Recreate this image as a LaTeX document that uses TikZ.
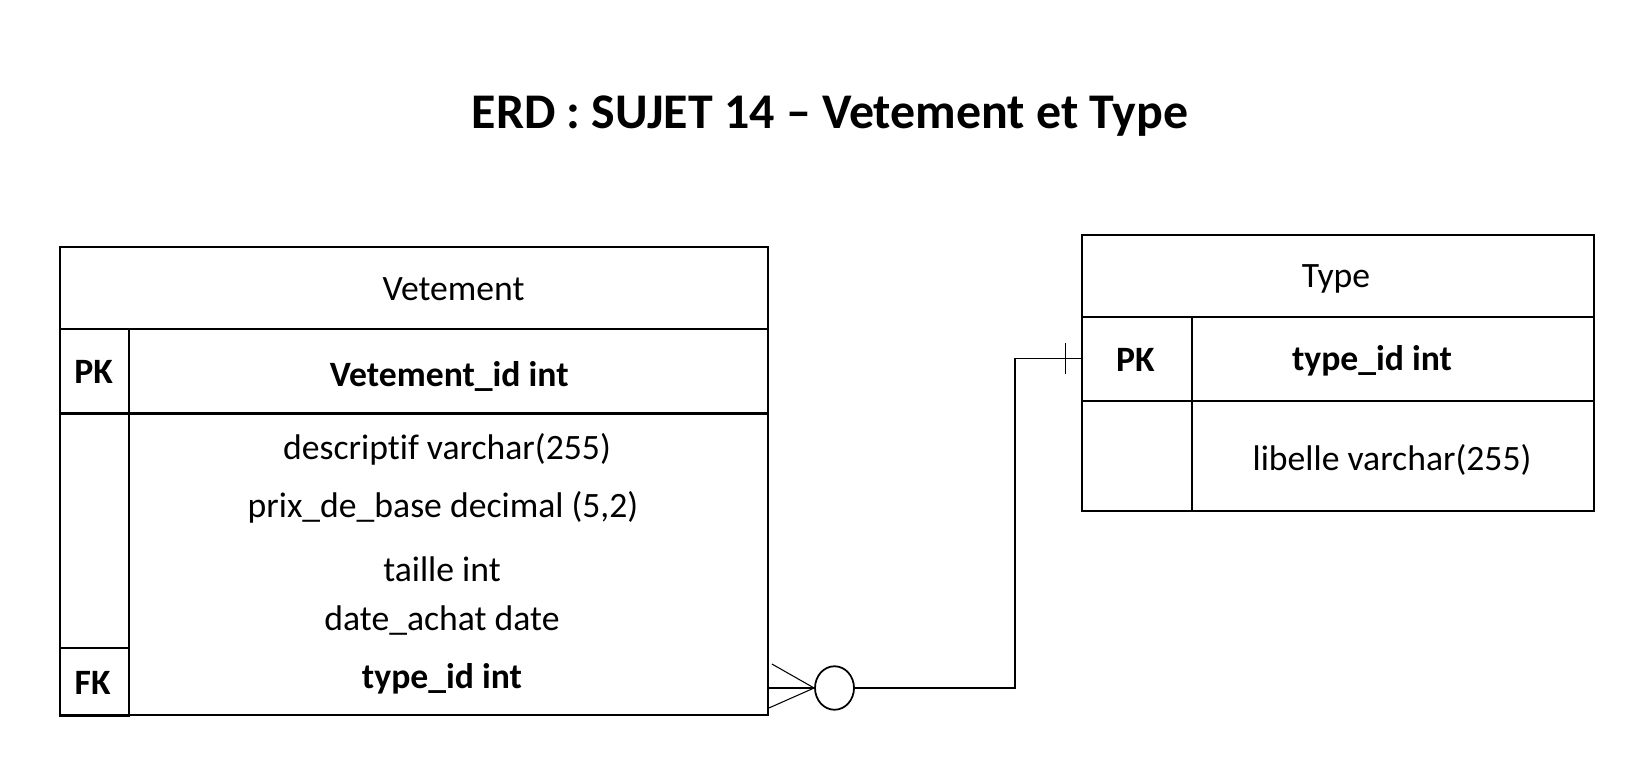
\documentclass[tikz,border=0pt]{standalone}
\usepackage{fontspec}
\setmainfont{Carlito}[Ligatures={TeX,NoCommon}]
\usetikzlibrary{shapes.geometric}
\usetikzlibrary{calc}

\begin{document}
\begin{tikzpicture} [
       x=0.02cm, y=-0.02cm,
       cell/.style={draw, line width=1.15pt, anchor=north west, inner sep=0pt},
       field/.style={inner sep=0pt, font=\fontsize{20.3}{24}\selectfont},
       key/.style={inner sep=0pt, font=\fontsize{20.3}{24}\selectfont\bfseries},
       heading/.style={inner sep=0pt, font=\fontsize{28.4}{34}\selectfont\bfseries},
       line/.style={draw, line width=0.6pt},
       ]
       \useasboundingbox (0,0) rectangle (1650,763);
       \node (heading) [heading] at (830,116) {ERD : SUJET 14 – Vetement et Type};

       \node (vethead) [cell, minimum width=14.16cm, minimum height=1.64cm] at (59,246) {};
       \node (vetpkcol) [cell, minimum width=1.388cm, minimum height=1.69cm] at (59,328) {};
       \node (vetpkrow) [cell, minimum width=12.772cm, minimum height=1.69cm] at (128.4,328) {};
       \node (vetleft) [cell, minimum width=1.388cm, minimum height=4.69cm] at (59,412.5) {};
       \node (vetbody) [cell, minimum width=12.772cm, minimum height=6.04cm] at (128.4,412.5) {};
       \node (vetfkcol) [cell, minimum width=1.388cm, minimum height=1.35cm] at (59,647) {};

       \node (vetname) [field] at (453.5,289) {Vetement};
       \node (vetpk) [key] at (93.7,372) {PK};
       \node (vetid) [key] at (449.3,376) {Vetement\_id int};
       \node (vetdesc) [field] at (447,449.5) {descriptif varchar(255)};
       \node (vetprix) [field] at (443,507.5) {prix\_de\_base decimal (5,2)};
       \node (vettaille) [field] at (442,569) {taille int};
       \node (vetdate) [field] at (442,621) {date\_achat date};
       \node (vettypeid) [key] at (442,678.5) {type\_id int};
       \node (vetfk) [key] at (92.6,683) {FK};

       \node (typehead) [cell, minimum width=10.246cm, minimum height=1.642cm] at (1080.7,233.6) {};
       \node (typepkcol) [cell, minimum width=2.206cm, minimum height=1.686cm] at (1080.7,315.7) {};
       \node (typepkrow) [cell, minimum width=8.04cm, minimum height=1.686cm] at (1191,315.7) {};
       \node (typeleft) [cell, minimum width=2.206cm, minimum height=2.2cm] at (1080.7,400) {};
       \node (typebody) [cell, minimum width=8.04cm, minimum height=2.2cm] at (1191,400) {};

       \node (typename) [field] at (1336,278.5) {Type};
       \node (typepk) [key] at (1135.4,359.5) {PK};
       \node (typeid) [key] at (1372,360.5) {type\_id int};
       \node (typelib) [field] at (1392,460) {libelle varchar(255)};

       \node (opt) [ellipse, draw, line width=1pt, minimum width=0.78cm, minimum height=0.87cm, inner sep=0pt] at (834.5,688) {};
       \coordinate (crow) at (vetbody.east |- opt);
       \coordinate (elbow) at (1015,688);
       \begin{scope}[every path/.style=line]
        \path (crow) -- (opt.west);
        \path ($(crow)+(3,-24)$) -- (opt.west);
        \path ($(crow)+(0,20)$) -- (opt.west);
        \path (opt.east) -- (elbow) |- (typepkcol.west);
        \path ($(typepkcol.west)+(-15,-16)$) -- ++(0,31);
       \end{scope}
\end{tikzpicture}
\end{document}
